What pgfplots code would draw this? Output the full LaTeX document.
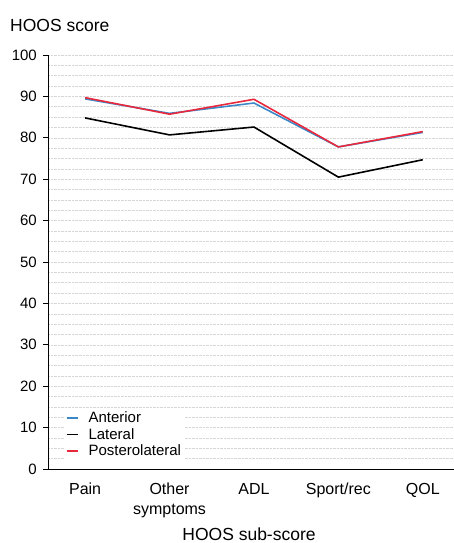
\documentclass[border=0pt]{standalone}
\usepackage{pgfplots}
\pgfplotsset{compat=1.18}
\usepackage{fontspec}
\setmainfont{Liberation Sans}
\definecolor{antblue}{RGB}{60,135,200}
\definecolor{postred}{RGB}{232,40,60}
\begin{document}
\begin{tikzpicture}
\begin{axis}[
  scale only axis,
  width=406bp, height=414bp,
  xmin=-0.44, xmax=4.37,
  ymin=0, ymax=100,
  axis x line*=bottom, axis y line*=left,
  axis line style={black, line width=0.8pt},
  xtick={0,1,2,3,4},
  xticklabels={Pain,{Other\\symptoms},ADL,Sport/rec,QOL},
  x tick label style={align=center, font=\fontsize{16bp}{19.5bp}\selectfont, anchor=north, yshift=-9bp, inner sep=0pt},
  xtick style={draw=none},
  ytick style={draw=black, line width=0.7pt},
  ytick={0,10,...,100},
  minor ytick={0,2.5,...,100},
  tick align=outside,
  major tick length=5bp,
  minor tick length=0pt,
  y tick label style={font=\fontsize{15bp}{17bp}\selectfont, anchor=east, inner sep=0pt, xshift=-6bp},
  /pgf/number format/assume math mode=true,
  ymajorgrids, yminorgrids,
  major grid style={densely dotted, gray!32, line width=0.5pt},
  minor grid style={densely dotted, gray!32, line width=0.5pt},
  legend style={at={(0.04,0.02)}, anchor=south west, draw=none, fill=white,
    font=\fontsize{15bp}{17bp}\selectfont, row sep=0bp, column sep=8bp, inner sep=1.5bp},
  legend cell align=left,
  legend image code/.code={\draw[#1, line width=1.6pt] (0bp,0bp) -- (11bp,0bp);},
  clip=false,
]
\addplot[antblue, line width=1.6pt] coordinates {(0,89.4) (1,85.9) (2,88.4) (3,77.8) (4,81.3)};
\addlegendentry{Anterior}
\addplot[black, line width=1.6pt] coordinates {(0,84.8) (1,80.7) (2,82.6) (3,70.5) (4,74.7)};
\addlegendentry{Lateral}
\addplot[postred, line width=1.6pt] coordinates {(0,89.7) (1,85.7) (2,89.3) (3,77.8) (4,81.5)};
\addlegendentry{Posterolateral}
\coordinate (bl) at (rel axis cs:0,0);
\coordinate (tr) at (rel axis cs:1,1);
\node[anchor=base west, font=\fontsize{17.5bp}{20bp}\selectfont, inner sep=0pt] at (rel axis cs:0,1) [xshift=-38bp, yshift=23bp] {HOOS score};
\node[anchor=base, font=\fontsize{17.5bp}{20bp}\selectfont, inner sep=0pt] at (rel axis cs:0.5,0) [xshift=-2bp, yshift=-71bp] {HOOS sub-score};
\end{axis}
\pgfresetboundingbox
\path[use as bounding box] ([xshift=-48bp,yshift=-74bp]bl) rectangle ([yshift=55bp]tr);
\end{tikzpicture}
\end{document}
